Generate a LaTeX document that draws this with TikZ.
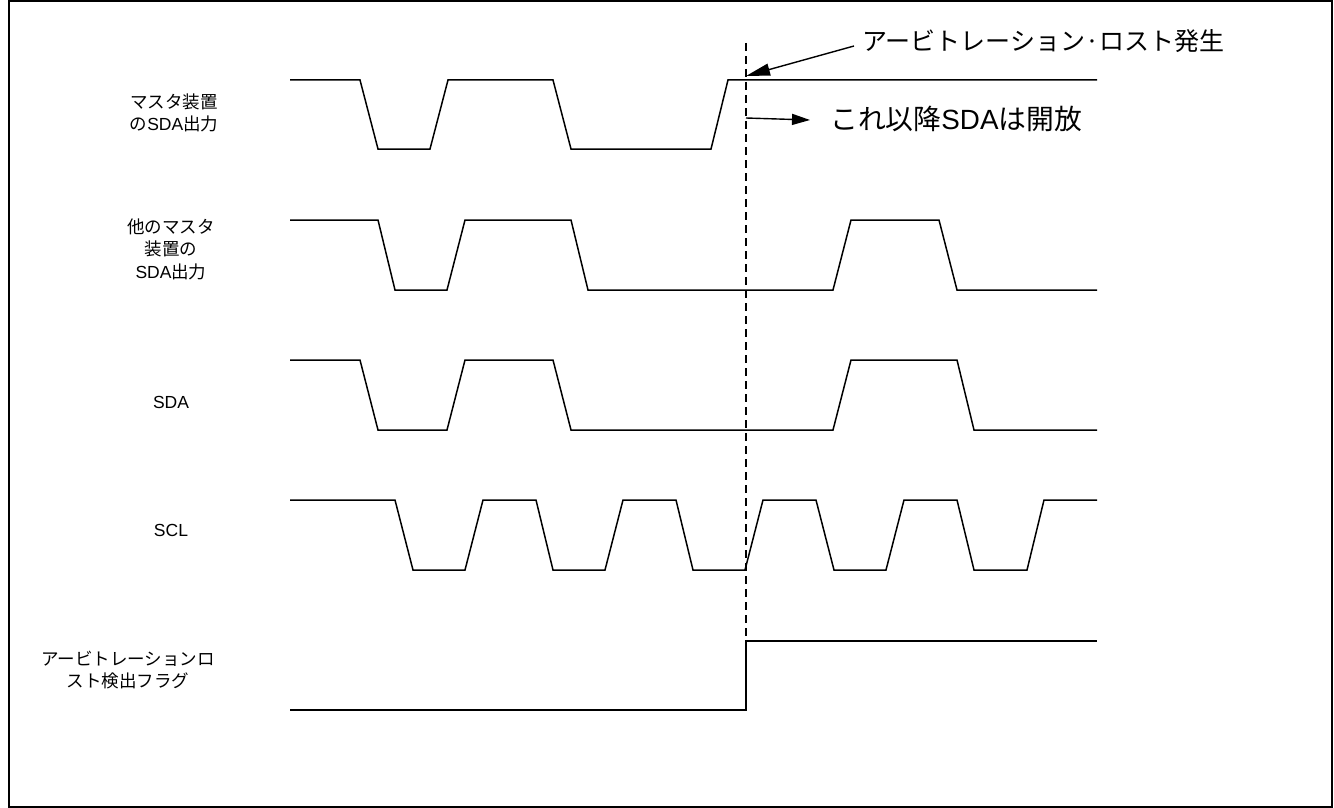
\documentclass[tikz,border=0pt]{standalone}
\usepackage{fontspec}
\setmainfont{Liberation Sans}
\newfontfamily\jp{Noto Sans CJK JP}
\usetikzlibrary{arrows.meta}
\begin{document}
\begin{tikzpicture}[x=1pt,y=-1pt,
  wave/.style={line width=1.5pt,line join=miter},
  lbl/.style={align=center,font=\fontsize{17.5}{22.5}\selectfont,inner sep=0pt},
  big/.style={anchor=west,font=\fontsize{25}{30}\selectfont,inner sep=0pt},
  bigger/.style={anchor=west,font=\fontsize{27.8}{32}\selectfont,inner sep=0pt},
  guide/.style={line width=1.4pt,dash pattern=on 8pt off 5pt},
  callout/.style={line width=1.4pt}]
\useasboundingbox (0,0) rectangle (1334,808);
\draw[line width=1.6pt] (9,1) rectangle (1332,807);

% labels
\node[lbl] (l1) at (174,113) {{\jp マスタ装置}\\{\jp の}SDA{\jp 出力}};
\node[lbl] (l2) at (171,249) {{\jp 他のマスタ}\\{\jp 装置の}\\SDA{\jp 出力}};
\node[lbl] (l3) at (171,402) {SDA};
\node[lbl] (l4) at (171,530) {SCL};
\node[lbl] (l5) at (128,670) {{\jp アービトレーションロ}\\{\jp スト検出フラグ}};

% waveforms
\draw[wave] (290,80) -- (360,80) -- (378,149) -- (430,149) -- (448,80) -- (553,80) -- (571,149) -- (711,149) -- (728,80) -- (1097,80);
\draw[wave] (290,220) -- (378,220) -- (395,290) -- (447,290) -- (465,220) -- (571,220) -- (588,290) -- (833,290) -- (851,220) -- (939,220) -- (957,290) -- (1097,290);
\draw[wave] (290,360) -- (360,360) -- (378,430) -- (447,430) -- (465,360) -- (553,360) -- (571,430) -- (833,430) -- (851,360) -- (957,360) -- (974,430) -- (1097,430);
\draw[wave] (290,500) -- (395,500) -- (413,570) -- (465,570) -- (483,500) -- (536,500) -- (553,570) -- (605,570) -- (623,500) -- (676,500) -- (693,570) -- (745,570) -- (763,500) -- (816,500) -- (834,570) -- (886,570) -- (904,500) -- (957,500) -- (974,570) -- (1027,570) -- (1044,500) -- (1097,500);
\draw[wave] (290,710) -- (746,710) -- (746,641) -- (1097,641);

% dashed guide
\coordinate (gtop) at (746,43);
\coordinate (gbot) at (746,641);
\draw[guide] (gtop) -- (gbot);

% callouts
\node[big] (t1) at (862,41) {{\jp アービトレーション·ロスト発生}};
\node[bigger] (t2) at (830,119) {{\jp これ以降}SDA{\jp は開放}};
\coordinate (tipA) at (746,76);
\coordinate (srcB) at (746,118);
\draw[callout,-{Triangle[length=24pt,width=12pt]}] ([xshift=-8pt,yshift=-5pt]t1.west) -- (tipA);
\draw[callout,-{Triangle[length=18pt,width=11pt]}] (srcB) -- ([xshift=-20pt,yshift=-1pt]t2.west);
\end{tikzpicture}
\end{document}
